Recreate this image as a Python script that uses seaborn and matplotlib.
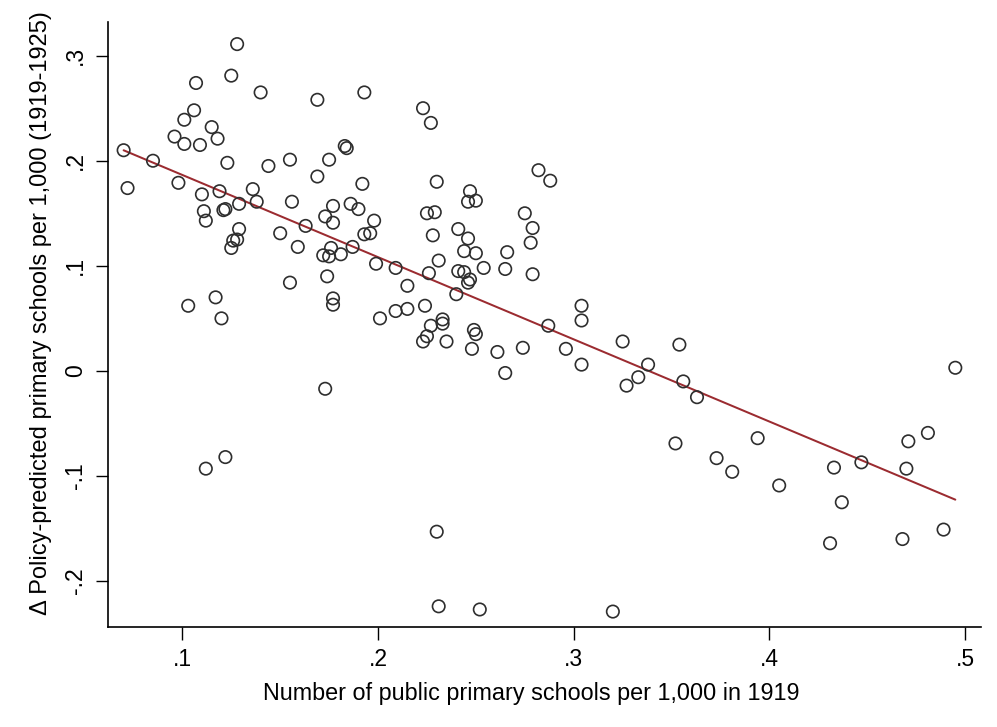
import matplotlib
matplotlib.use("Agg")
import matplotlib.pyplot as plt
from matplotlib.ticker import FuncFormatter, FixedLocator
import pandas as pd
import seaborn as sns

# Public primary schools per 1,000 inhabitants in 1919 (one value per district)
schools_1919 = [
    0.070, 0.072, 0.085, 0.096, 0.101, 0.101, 0.106, 0.107, 0.109, 0.115,
    0.118, 0.123, 0.125, 0.128, 0.140, 0.144, 0.155, 0.098, 0.110, 0.119,
    0.136, 0.138, 0.156, 0.129, 0.121, 0.122, 0.111, 0.112, 0.129, 0.128,
    0.126, 0.125, 0.150, 0.159, 0.155, 0.117, 0.103, 0.120, 0.122, 0.112,
    0.169, 0.193, 0.223, 0.227, 0.183, 0.184, 0.175, 0.169, 0.192, 0.230,
    0.247, 0.246, 0.250, 0.177, 0.186, 0.190, 0.173, 0.225, 0.229, 0.198,
    0.177, 0.163, 0.193, 0.196, 0.228, 0.241, 0.246, 0.176, 0.172, 0.175,
    0.181, 0.187, 0.244, 0.250, 0.231, 0.254, 0.199, 0.209, 0.226, 0.241,
    0.244, 0.247, 0.246, 0.240, 0.174, 0.215, 0.177, 0.177, 0.224, 0.209,
    0.215, 0.201, 0.233, 0.233, 0.227, 0.225, 0.223, 0.235, 0.249, 0.250,
    0.248, 0.173, 0.230, 0.231, 0.252, 0.282, 0.288, 0.275, 0.279, 0.278,
    0.266, 0.265, 0.279, 0.261, 0.265, 0.274, 0.287, 0.304, 0.304, 0.296,
    0.304, 0.325, 0.327, 0.333, 0.338, 0.354, 0.356, 0.363, 0.352, 0.373,
    0.381, 0.394, 0.405, 0.433, 0.447, 0.437, 0.431, 0.471, 0.481, 0.470,
    0.468, 0.489, 0.495, 0.320,
]

# Change in policy-predicted primary schools per 1,000, 1919-1925
delta_predicted = [
    0.210, 0.174, 0.200, 0.223, 0.216, 0.239, 0.248, 0.274, 0.215, 0.232,
    0.221, 0.198, 0.281, 0.311, 0.265, 0.195, 0.201, 0.179, 0.168, 0.171,
    0.173, 0.161, 0.161, 0.159, 0.153, 0.154, 0.152, 0.143, 0.135, 0.125,
    0.124, 0.117, 0.131, 0.118, 0.084, 0.070, 0.062, 0.050, -0.082, -0.093,
    0.258, 0.265, 0.250, 0.236, 0.214, 0.212, 0.201, 0.185, 0.178, 0.180,
    0.171, 0.161, 0.162, 0.157, 0.159, 0.154, 0.147, 0.150, 0.151, 0.143,
    0.141, 0.138, 0.130, 0.131, 0.129, 0.135, 0.126, 0.117, 0.110, 0.109,
    0.111, 0.118, 0.114, 0.112, 0.105, 0.098, 0.102, 0.098, 0.093, 0.095,
    0.094, 0.087, 0.084, 0.073, 0.090, 0.081, 0.069, 0.063, 0.062, 0.057,
    0.059, 0.050, 0.049, 0.045, 0.043, 0.033, 0.028, 0.028, 0.039, 0.035,
    0.021, -0.017, -0.153, -0.224, -0.227, 0.191, 0.181, 0.150, 0.136, 0.122,
    0.113, 0.097, 0.092, 0.018, -0.002, 0.022, 0.043, 0.062, 0.048, 0.021,
    0.006, 0.028, -0.014, -0.006, 0.006, 0.025, -0.010, -0.025, -0.069, -0.083,
    -0.096, -0.064, -0.109, -0.092, -0.087, -0.125, -0.164, -0.067, -0.059, -0.093,
    -0.160, -0.151, 0.003, -0.229,
]

x_ticks = [0.1, 0.2, 0.3, 0.4, 0.5]
y_ticks = [-0.2, -0.1, 0.0, 0.1, 0.2, 0.3]

x_label = "Number of public primary schools per 1,000 in 1919"
y_label = "\u0394 Policy-predicted primary schools per 1,000 (1919-1925)"

df = pd.DataFrame({"schools_1919": schools_1919, "delta_predicted": delta_predicted})

sns.set_style("ticks")
plt.rcParams["font.family"] = ["Liberation Sans", "DejaVu Sans"]

fig = plt.figure(figsize=(9.97, 7.27), dpi=100)
ax = fig.add_axes([0.1083, 0.1371, 0.8754, 0.8326])

sns.scatterplot(
    data=df, x="schools_1919", y="delta_predicted", ax=ax,
    s=80, marker="o", facecolors="none", edgecolor="#2e2e2e", linewidth=1.2,
    zorder=3,
)
sns.regplot(
    data=df, x="schools_1919", y="delta_predicted", ax=ax,
    scatter=False, ci=None, truncate=True,
    line_kws=dict(color="#9b2b30", linewidth=1.45, zorder=2),
)


def stata_fmt(v, pos):
    v = round(v, 3)
    if v == 0:
        return "0"
    s = f"{v:g}"
    return s.replace("0.", ".")


ax.set_xlim(0.062, 0.508)
ax.set_ylim(-0.244, 0.332)
ax.xaxis.set_major_locator(FixedLocator(x_ticks))
ax.yaxis.set_major_locator(FixedLocator(y_ticks))
ax.xaxis.set_major_formatter(FuncFormatter(stata_fmt))
ax.yaxis.set_major_formatter(FuncFormatter(stata_fmt))

ax.tick_params(axis="both", direction="out", length=9, width=1.0, color="black",
               labelsize=16.5, labelcolor="black")
ax.tick_params(axis="x", pad=6)
ax.tick_params(axis="y", pad=6, labelrotation=90)
for lbl in ax.get_yticklabels():
    lbl.set_verticalalignment("center")

ax.set_xlabel(x_label, fontsize=16.8, color="black")
ax.set_ylabel(y_label, fontsize=17, color="black")
ax.xaxis.set_label_coords(0.485, -0.091)
ax.yaxis.set_label_coords(-0.064, 0.52)

sns.despine(ax=ax, top=True, right=True)
for side in ("left", "bottom"):
    ax.spines[side].set_linewidth(1.2)
    ax.spines[side].set_color("black")

fig.savefig("out.png", dpi=100, facecolor="white")
